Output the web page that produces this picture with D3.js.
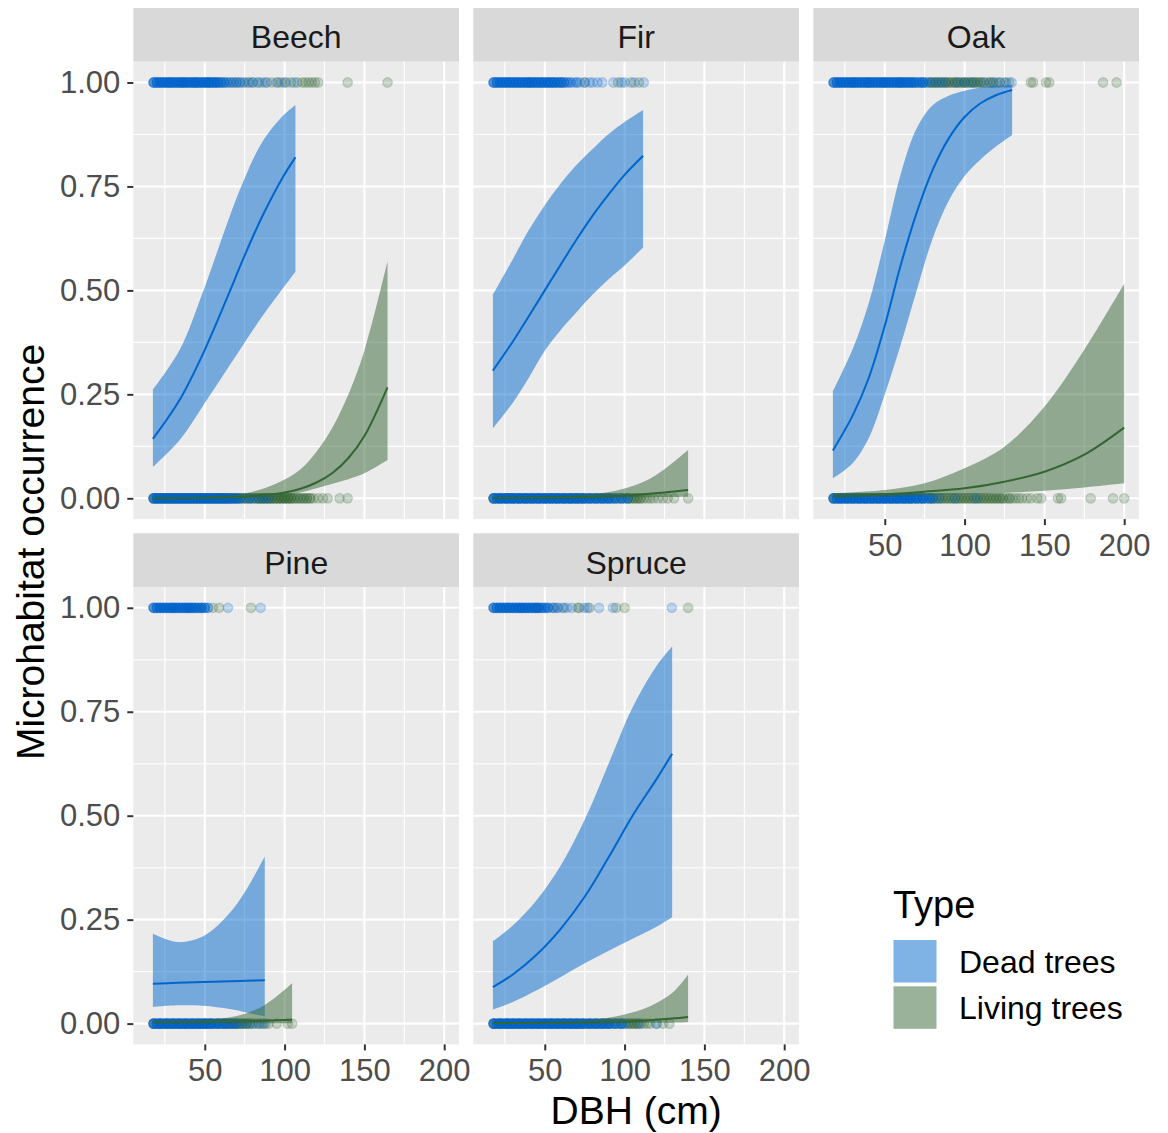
<!DOCTYPE html>
<html>
<head>
<meta charset="utf-8">
<script src="https://cdn.jsdelivr.net/npm/d3@7"></script>
<style>
  body { margin: 0; background: #fff; }
  text { font-family: "Liberation Sans", Arial, sans-serif; }
</style>
</head>
<body>
<svg id="chart" width="1168" height="1133"></svg>
<script>
// facets and scales
const species = ['Beech', 'Fir', 'Oak', 'Pine', 'Spruce'];
const types = ['Dead trees', 'Living trees'];
const xTicks = [50, 100, 150, 200];
const xMinor = [25, 75, 125, 175];
const yTicks = [0, 0.25, 0.5, 0.75, 1];
const yMinor = [0.125, 0.375, 0.625, 0.875];
const dbhRange = [14.5, 200];

// fitted probability (fit, lower, upper) read at a few DBH values
const beechDeadX = [17.5, 34.3, 49.3, 65.6, 75, 86.5, 99, 106.8];
const beechDeadFit = [0.143, 0.237, 0.351, 0.497, 0.584, 0.682, 0.773, 0.82];
const beechDeadLo = [0.075, 0.14, 0.225, 0.32, 0.375, 0.44, 0.505, 0.545];
const beechDeadHi = [0.261, 0.357, 0.501, 0.678, 0.77, 0.86, 0.92, 0.946];
const beechLiveX = [17.5, 50, 75, 90, 100, 110, 120, 130, 140, 150, 164.5];
const beechLiveFit = [0.0002, 0.0012, 0.004, 0.009, 0.014, 0.023, 0.038, 0.061, 0.097, 0.15, 0.267];
const beechLiveLo = [0, 0.0003, 0.001, 0.003, 0.006, 0.014, 0.024, 0.035, 0.046, 0.06, 0.092];
const beechLiveHi = [0.001, 0.004, 0.012, 0.028, 0.045, 0.07, 0.112, 0.17, 0.25, 0.355, 0.57];

const firDeadX = [17.5, 30, 40, 50, 60, 70, 80, 90, 100, 111.6];
const firDeadFit = [0.307, 0.377, 0.438, 0.5, 0.562, 0.623, 0.68, 0.731, 0.778, 0.824];
const firDeadLo = [0.168, 0.23, 0.29, 0.355, 0.405, 0.448, 0.49, 0.527, 0.56, 0.603];
const firDeadHi = [0.489, 0.575, 0.645, 0.705, 0.757, 0.802, 0.84, 0.876, 0.905, 0.934];
const firLiveX = [17.5, 60, 90, 112, 125, 139.8];
const firLiveFit = [0.001, 0.002, 0.005, 0.01, 0.014, 0.02];
const firLiveLo = [0, 0.0003, 0.001, 0.002, 0.003, 0.004];
const firLiveHi = [0.002, 0.006, 0.015, 0.04, 0.07, 0.116];

const oakDeadX = [17.5, 30, 40, 50, 60, 70, 80, 90, 100, 110, 120, 129.8];
const oakDeadFit = [0.115, 0.2, 0.29, 0.415, 0.561, 0.687, 0.79, 0.865, 0.917, 0.95, 0.97, 0.982];
const oakDeadLo = [0.048, 0.085, 0.145, 0.25, 0.37, 0.5, 0.625, 0.715, 0.775, 0.815, 0.847, 0.874];
const oakDeadHi = [0.257, 0.36, 0.47, 0.62, 0.78, 0.89, 0.945, 0.968, 0.98, 0.988, 0.992, 0.994];
const oakLiveX = [17.5, 50, 75, 100, 125, 150, 175, 200];
const oakLiveFit = [0.005, 0.01, 0.016, 0.024, 0.04, 0.064, 0.105, 0.17];
const oakLiveLo = [0.002, 0.004, 0.007, 0.01, 0.013, 0.018, 0.026, 0.036];
const oakLiveHi = [0.012, 0.02, 0.036, 0.072, 0.124, 0.22, 0.357, 0.516];

const pineDeadX = [17.5, 33, 49, 65.6, 76, 87.6];
const pineDeadFit = [0.096, 0.098, 0.1, 0.102, 0.103, 0.104];
const pineDeadLo = [0.04, 0.044, 0.043, 0.035, 0.027, 0.017];
const pineDeadHi = [0.216, 0.196, 0.21, 0.266, 0.322, 0.402];
const pineLiveX = [17.5, 50, 70, 87.6, 104.7];
const pineLiveFit = [0.003, 0.004, 0.005, 0.007, 0.009];
const pineLiveLo = [0.001, 0.001, 0.001, 0.001, 0.001];
const pineLiveHi = [0.006, 0.009, 0.018, 0.045, 0.097];

const spruceDeadX = [17.5, 30, 45, 60, 75, 90, 105, 120, 129.8];
const spruceDeadFit = [0.088, 0.118, 0.166, 0.228, 0.305, 0.4, 0.5, 0.588, 0.649];
const spruceDeadLo = [0.034, 0.052, 0.08, 0.112, 0.145, 0.175, 0.204, 0.233, 0.256];
const spruceDeadHi = [0.198, 0.236, 0.297, 0.38, 0.49, 0.625, 0.76, 0.86, 0.907];
const spruceLiveX = [17.5, 60, 82, 100, 116, 130, 139.8];
const spruceLiveFit = [0.001, 0.002, 0.003, 0.005, 0.008, 0.012, 0.016];
const spruceLiveLo = [0, 0.0005, 0.001, 0.001, 0.002, 0.002, 0.003];
const spruceLiveHi = [0.002, 0.005, 0.01, 0.022, 0.042, 0.074, 0.118];

// observed trees: [DBH, number of trees], at occurrence 1 and 0
const beechDead1 = [[18,4],[20,4],[22,4],[24,4],[26,4],[28,4],[30,4],[32,4],[34,4],[36,4],[38,4],[40,4],[42,4],[44,4],[46,4],[48,4],[50,4],[52,4],[54,4],[56,4],[58,3],[60,3],[62,2],[64,2],[66,1],[68,2],[70,1],[72,2],[75,1],[78,1],[80,1],[83,1],[86,1],[89,1],[95,1],[100,1],[106,1]];
const beechLive1 = [[28,1],[36,1],[44,1],[52,1],[58,1],[62,1],[66,1],[70,1],[74,1],[77,1],[80,1],[84,1],[88,1],[92,1],[96,1],[98,1],[101,1],[104,1],[108,1],[111,1],[113,1],[115,1],[117,1],[119,1],[121,1],[139.5,1],[164.5,1]];
const beechDead0 = [[18,4],[20,4],[22,4],[24,4],[26,4],[28,4],[30,4],[32,4],[34,4],[36,4],[38,4],[40,4],[42,4],[44,4],[46,4],[48,4],[50,4],[52,4],[54,4],[56,4],[58,4],[60,4],[62,4],[64,4],[66,3],[68,3],[70,3],[72,2],[75,1],[78,2],[81,1],[84,1],[87,1],[90,1]];
const beechLive0 = [[18,2],[20,2],[22,2],[24,2],[26,2],[28,2],[30,2],[32,2],[34,2],[36,2],[38,2],[40,2],[42,2],[44,2],[46,2],[48,2],[50,2],[52,2],[54,2],[56,2],[58,2],[60,2],[62,2],[64,2],[66,2],[68,2],[70,2],[72,2],[74,2],[76,2],[78,2],[80,2],[82,2],[84,3],[86,3],[88,3],[90,3],[92,3],[94,3],[96,3],[98,3],[100,3],[102,3],[104,3],[106,2],[108,2],[110,2],[112,2],[114,2],[116,2],[118,1],[121,1],[124,1],[127,1],[134.5,1],[139.5,1]];

const firDead1 = [[18,4],[20,4],[22,4],[24,4],[26,4],[28,4],[30,4],[32,4],[34,4],[36,4],[38,4],[40,4],[42,4],[44,4],[46,4],[48,4],[50,4],[52,4],[54,4],[56,4],[58,3],[60,3],[62,3],[64,2],[66,2],[68,1],[70,2],[72,1],[75,1],[78,1],[80,1],[83,1],[86,1],[93,1],[98,1],[100,1],[106,1],[112,1]];
const firLive1 = [[40,1],[60,1],[75,1],[96,1],[104,1],[109,1]];
const firDead0 = [[18,4],[20,4],[22,4],[24,4],[26,4],[28,4],[30,4],[32,4],[34,4],[36,4],[38,4],[40,4],[42,4],[44,4],[46,4],[48,4],[50,4],[52,4],[54,4],[56,4],[58,4],[60,4],[62,4],[64,4],[66,4],[68,4],[70,4],[72,4],[74,4],[76,3],[78,3],[80,3],[82,3],[84,3],[86,3],[88,3],[90,3],[92,3],[94,2],[96,2],[98,2],[100,2],[102,2]];
const firLive0 = [[18,2],[22,2],[26,2],[30,2],[34,2],[38,2],[42,2],[46,2],[50,2],[54,2],[58,2],[62,2],[66,2],[70,2],[74,2],[78,2],[82,2],[86,2],[90,2],[94,2],[98,2],[102,2],[104,2],[106,2],[108,2],[110,2],[112,1],[114,1],[116,1],[118,1],[121,1],[124,1],[127,1],[131,1],[139.8,1]];

const oakDead1 = [[18,4],[20,4],[22,4],[24,4],[26,4],[28,4],[30,4],[32,4],[34,4],[36,4],[38,4],[40,4],[42,4],[44,4],[46,4],[48,4],[50,4],[52,4],[54,4],[56,4],[58,4],[60,4],[62,4],[64,4],[66,4],[68,3],[70,3],[72,3],[74,3],[76,2],[79,1],[82,1],[85,1],[88,1],[95,1],[100,1],[105,1],[112,1],[118,1],[122,1],[126,1],[129.5,1]];
const oakLive1 = [[30,1],[40,1],[50,1],[60,1],[68,1],[74,1],[78,2],[80,2],[82,2],[84,2],[86,2],[88,2],[90,2],[92,2],[94,2],[96,2],[98,2],[100,2],[102,2],[104,2],[106,2],[108,2],[110,2],[112,1],[114,1],[116,2],[118,1],[120,1],[122,1],[125,1],[128,1],[141.5,1],[143,1],[151,1],[153,1],[186.8,1],[195.2,1]];
const oakDead0 = [[18,4],[20,4],[22,4],[24,4],[26,4],[28,4],[30,4],[32,4],[34,4],[36,4],[38,4],[40,4],[42,4],[44,4],[46,4],[48,4],[50,4],[52,4],[54,4],[56,4],[58,4],[60,4],[62,4],[64,4],[66,4],[68,3],[70,3],[72,3],[74,3],[76,2],[78,2],[80,2],[84,1],[94,1],[107,1]];
const oakLive0 = [[18,2],[22,2],[26,2],[30,2],[34,2],[38,2],[42,2],[46,2],[50,2],[54,2],[58,2],[62,2],[66,2],[70,2],[74,2],[78,2],[80,2],[82,2],[84,2],[86,2],[88,2],[90,2],[92,2],[94,2],[96,2],[98,2],[100,2],[102,2],[104,2],[106,2],[108,2],[110,2],[112,2],[114,2],[116,2],[118,2],[120,2],[122,2],[124,2],[126,1],[128,2],[130,1],[132,1],[134,1],[136,1],[139,1],[141.5,1],[145.5,1],[148,1],[158.5,1],[160.5,1],[179,1],[193,1],[200,1]];

const pineDead1 = [[18,4],[20,4],[22,4],[24,4],[26,4],[28,4],[30,4],[32,4],[34,4],[36,4],[38,4],[40,4],[42,4],[44,4],[46,3],[48,3],[50,3],[52,2],[64.5,1],[85,1]];
const pineLive1 = [[30,1],[40,1],[48,1],[55,1],[59,1],[79,1]];
const pineDead0 = [[18,4],[20,4],[22,4],[24,4],[26,4],[28,4],[30,4],[32,4],[34,4],[36,4],[38,4],[40,4],[42,4],[44,4],[46,4],[48,4],[50,4],[52,4],[54,4],[56,3],[58,3],[60,3],[62,3],[64,2],[66,2],[68,2],[70,2],[73,1],[76,1],[80,1],[84,1],[87,1]];
const pineLive0 = [[18,2],[22,2],[26,2],[30,2],[34,2],[38,2],[42,2],[46,2],[50,2],[54,2],[58,2],[62,2],[64,2],[66,2],[68,2],[70,2],[72,2],[74,2],[76,2],[78,2],[80,1],[82,1],[84,1],[86,1],[88,1],[90,1],[95,1],[102,1],[104.7,1]];

const spruceDead1 = [[18,4],[20,4],[22,4],[24,4],[26,4],[28,4],[30,4],[32,4],[34,4],[36,4],[38,4],[40,4],[42,4],[44,4],[46,4],[48,3],[50,3],[52,3],[55,2],[58,2],[61,1],[64,1],[67,1],[74.7,1],[76.8,1],[84,1],[92.7,1],[129.6,1]];
const spruceLive1 = [[35,1],[45,1],[56,1],[62,1],[70.6,1],[71.6,1],[78,1],[94.7,1],[100,1],[139.8,1]];
const spruceDead0 = [[18,4],[20,4],[22,4],[24,4],[26,4],[28,4],[30,4],[32,4],[34,4],[36,4],[38,4],[40,4],[42,4],[44,4],[46,4],[48,4],[50,4],[52,4],[54,4],[56,4],[58,4],[60,4],[62,4],[64,4],[66,4],[68,4],[70,4],[72,4],[74,3],[76,3],[78,3],[80,3],[82,3],[84,3],[86,3],[88,3],[90,3],[92,2],[94,2],[96,2],[98,2],[100,2],[109.4,1],[120,1]];
const spruceLive0 = [[18,2],[22,2],[26,2],[30,2],[34,2],[38,2],[42,2],[46,2],[50,2],[54,2],[58,2],[62,2],[66,2],[70,2],[74,2],[78,2],[82,2],[86,2],[90,2],[94,2],[98,2],[102,2],[104,2],[106,2],[108,2],[110,1],[112,1],[114,1],[116,1],[120,1],[124,1],[128,1]];

const curves = [
  { sp: 'Beech', type: 'Dead trees', x: beechDeadX, fit: beechDeadFit, lo: beechDeadLo, hi: beechDeadHi },
  { sp: 'Beech', type: 'Living trees', x: beechLiveX, fit: beechLiveFit, lo: beechLiveLo, hi: beechLiveHi },
  { sp: 'Fir', type: 'Dead trees', x: firDeadX, fit: firDeadFit, lo: firDeadLo, hi: firDeadHi },
  { sp: 'Fir', type: 'Living trees', x: firLiveX, fit: firLiveFit, lo: firLiveLo, hi: firLiveHi },
  { sp: 'Oak', type: 'Dead trees', x: oakDeadX, fit: oakDeadFit, lo: oakDeadLo, hi: oakDeadHi },
  { sp: 'Oak', type: 'Living trees', x: oakLiveX, fit: oakLiveFit, lo: oakLiveLo, hi: oakLiveHi },
  { sp: 'Pine', type: 'Dead trees', x: pineDeadX, fit: pineDeadFit, lo: pineDeadLo, hi: pineDeadHi },
  { sp: 'Pine', type: 'Living trees', x: pineLiveX, fit: pineLiveFit, lo: pineLiveLo, hi: pineLiveHi },
  { sp: 'Spruce', type: 'Dead trees', x: spruceDeadX, fit: spruceDeadFit, lo: spruceDeadLo, hi: spruceDeadHi },
  { sp: 'Spruce', type: 'Living trees', x: spruceLiveX, fit: spruceLiveFit, lo: spruceLiveLo, hi: spruceLiveHi }
];

const observations = [
  { sp: 'Beech', type: 'Living trees', occ: 0, pts: beechLive0 },
  { sp: 'Beech', type: 'Living trees', occ: 1, pts: beechLive1 },
  { sp: 'Beech', type: 'Dead trees', occ: 0, pts: beechDead0 },
  { sp: 'Beech', type: 'Dead trees', occ: 1, pts: beechDead1 },
  { sp: 'Fir', type: 'Living trees', occ: 0, pts: firLive0 },
  { sp: 'Fir', type: 'Living trees', occ: 1, pts: firLive1 },
  { sp: 'Fir', type: 'Dead trees', occ: 0, pts: firDead0 },
  { sp: 'Fir', type: 'Dead trees', occ: 1, pts: firDead1 },
  { sp: 'Oak', type: 'Living trees', occ: 0, pts: oakLive0 },
  { sp: 'Oak', type: 'Living trees', occ: 1, pts: oakLive1 },
  { sp: 'Oak', type: 'Dead trees', occ: 0, pts: oakDead0 },
  { sp: 'Oak', type: 'Dead trees', occ: 1, pts: oakDead1 },
  { sp: 'Pine', type: 'Living trees', occ: 0, pts: pineLive0 },
  { sp: 'Pine', type: 'Living trees', occ: 1, pts: pineLive1 },
  { sp: 'Pine', type: 'Dead trees', occ: 0, pts: pineDead0 },
  { sp: 'Pine', type: 'Dead trees', occ: 1, pts: pineDead1 },
  { sp: 'Spruce', type: 'Living trees', occ: 0, pts: spruceLive0 },
  { sp: 'Spruce', type: 'Living trees', occ: 1, pts: spruceLive1 },
  { sp: 'Spruce', type: 'Dead trees', occ: 0, pts: spruceDead0 },
  { sp: 'Spruce', type: 'Dead trees', occ: 1, pts: spruceDead1 }
];

const colors = { 'Dead trees': '#0066CC', 'Living trees': '#336633' };

const svg = d3.select('#chart');
const panelW = 325.7;
const panelH = 457.4;
const stripH = 53.7;
const colLeft = [133.3, 473.3, 813.3];
const rowTop = [8, 533.3];
const tickFont = 31;
const pad = 0.05 * (dbhRange[1] - dbhRange[0]);

species.forEach((sp, i) => {
  const col = i % 3;
  const row = Math.floor(i / 3);
  const left = colLeft[col];
  const top = rowTop[row] + stripH;
  const x = d3.scaleLinear().domain([dbhRange[0] - pad, dbhRange[1] + pad]).range([left, left + panelW]);
  const y = d3.scaleLinear().domain([-0.05, 1.05]).range([top + panelH, top]);

  // strip
  svg.append('rect')
    .attr('x', left).attr('y', rowTop[row])
    .attr('width', panelW).attr('height', stripH)
    .attr('fill', '#D9D9D9');
  svg.append('text')
    .attr('x', left + panelW / 2)
    .attr('y', rowTop[row] + stripH / 2 + 2)
    .attr('dy', '0.36em')
    .attr('text-anchor', 'middle')
    .attr('fill', '#1A1A1A')
    .attr('font-size', 32)
    .text(sp);

  // panel background + grid
  svg.append('rect')
    .attr('x', left).attr('y', top)
    .attr('width', panelW).attr('height', panelH)
    .attr('fill', '#EBEBEB');

  const g = svg.append('g');
  xMinor.forEach(v => {
    g.append('line').attr('x1', x(v)).attr('x2', x(v)).attr('y1', top).attr('y2', top + panelH)
      .attr('stroke', '#fff').attr('stroke-width', 1.1);
  });
  yMinor.forEach(v => {
    g.append('line').attr('x1', left).attr('x2', left + panelW).attr('y1', y(v)).attr('y2', y(v))
      .attr('stroke', '#fff').attr('stroke-width', 1.1);
  });
  xTicks.forEach(v => {
    g.append('line').attr('x1', x(v)).attr('x2', x(v)).attr('y1', top).attr('y2', top + panelH)
      .attr('stroke', '#fff').attr('stroke-width', 2.1);
  });
  yTicks.forEach(v => {
    g.append('line').attr('x1', left).attr('x2', left + panelW).attr('y1', y(v)).attr('y2', y(v))
      .attr('stroke', '#fff').attr('stroke-width', 2.1);
  });

  // observed points (living first, dead on top)
  const ptsG = svg.append('g');
  observations.filter(o => o.sp === sp).forEach(o => {
    const expanded = [];
    o.pts.forEach(([dbh, n]) => { for (let k = 0; k < n; k++) expanded.push(dbh); });
    ptsG.selectAll(null)
      .data(expanded)
      .enter()
      .append('circle')
      .attr('cx', d => x(d))
      .attr('cy', y(o.occ))
      .attr('r', 4.8)
      .attr('fill', colors[o.type])
      .attr('fill-opacity', 0.22)
      .attr('stroke', colors[o.type])
      .attr('stroke-opacity', 0.22)
      .attr('stroke-width', 1.2);
  });

  // smooths: ribbon then line, per group
  types.forEach(t => {
    const c = curves.find(cv => cv.sp === sp && cv.type === t);
    const rows = c.x.map((v, k) => ({ dbh: v, fit: c.fit[k], lo: c.lo[k], hi: c.hi[k] }));
    const area = d3.area()
      .x(d => x(d.dbh))
      .y0(d => y(d.lo))
      .y1(d => y(d.hi))
      .curve(d3.curveCatmullRom.alpha(0.5));
    const line = d3.line()
      .x(d => x(d.dbh))
      .y(d => y(d.fit))
      .curve(d3.curveCatmullRom.alpha(0.5));
    svg.append('path')
      .datum(rows)
      .attr('d', area)
      .attr('fill', colors[t])
      .attr('fill-opacity', 0.5);
    svg.append('path')
      .datum(rows)
      .attr('d', line)
      .attr('fill', 'none')
      .attr('stroke', colors[t])
      .attr('stroke-width', 2);
  });

  // axes
  if (col === 0) {
    const ax = svg.append('g')
      .attr('transform', `translate(${left},0)`)
      .call(d3.axisLeft(y).tickValues(yTicks).tickFormat(d3.format('.2f')).tickSize(6).tickPadding(7));
    ax.select('.domain').remove();
    ax.selectAll('line').attr('stroke', '#333333').attr('stroke-width', 2);
    ax.selectAll('text').attr('fill', '#4D4D4D').attr('font-size', tickFont)
      .attr('font-family', '"Liberation Sans", Arial, sans-serif');
  }
  if (row === 1 || sp === 'Oak') {
    const ax = svg.append('g')
      .attr('transform', `translate(0,${top + panelH})`)
      .call(d3.axisBottom(x).tickValues(xTicks).tickSize(6).tickPadding(9));
    ax.select('.domain').remove();
    ax.selectAll('line').attr('stroke', '#333333').attr('stroke-width', 2);
    ax.selectAll('text').attr('fill', '#4D4D4D').attr('font-size', tickFont)
      .attr('font-family', '"Liberation Sans", Arial, sans-serif');
  }
});

// axis titles
svg.append('text')
  .attr('x', (colLeft[0] + colLeft[2] + panelW) / 2)
  .attr('y', 1124)
  .attr('text-anchor', 'middle')
  .attr('font-size', 39)
  .attr('fill', '#000')
  .text('DBH (cm)');

svg.append('text')
  .attr('transform', 'translate(44,552) rotate(-90)')
  .attr('text-anchor', 'middle')
  .attr('font-size', 39)
  .attr('fill', '#000')
  .text('Microhabitat occurrence');

// legend
const legend = svg.append('g').attr('transform', 'translate(893,0)');
legend.append('text')
  .attr('x', 0).attr('y', 918)
  .attr('font-size', 38)
  .attr('fill', '#000')
  .text('Type');
types.forEach((t, k) => {
  const ky = 940 + k * 46.3;
  legend.append('rect')
    .attr('x', 0.5).attr('y', ky)
    .attr('width', 43).attr('height', 42.5)
    .attr('fill', colors[t])
    .attr('fill-opacity', 0.5);
  legend.append('text')
    .attr('x', 66).attr('y', ky + 21)
    .attr('dy', '0.36em')
    .attr('font-size', 32)
    .attr('fill', '#000')
    .text(t);
});
</script>
</body>
</html>
